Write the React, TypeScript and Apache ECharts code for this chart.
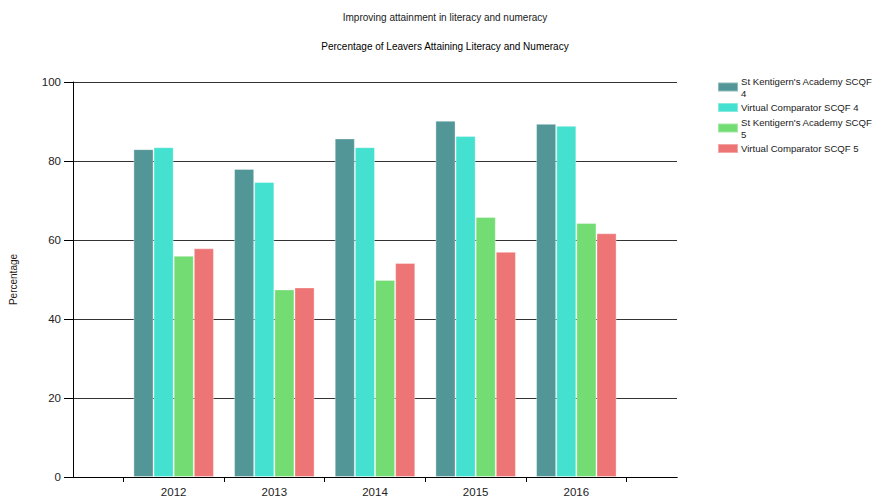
import React, { useEffect, useRef } from "react";
import * as echarts from "echarts";

const years = ["2012", "2013", "2014", "2015", "2016"];
const seriesNames = [
  "St Kentigern's Academy SCQF 4",
  "Virtual Comparator SCQF 4",
  "St Kentigern's Academy SCQF 5",
  "Virtual Comparator SCQF 5",
];
const sk4 = [83.0, 78.0, 85.7, 90.2, 89.4];
const vc4 = [83.5, 74.7, 83.5, 86.3, 88.9];
const sk5 = [56.0, 47.5, 49.9, 65.8, 64.3];
const vc5 = [57.9, 48.0, 54.2, 57.0, 61.7];
const colors = ["#529698", "#44E0D0", "#73DC73", "#EE7575"];
const yTicks = { min: 0, max: 100, interval: 20 };

const FONT = "'Liberation Sans', Arial, sans-serif";

export default function App() {
  const ref = useRef<HTMLDivElement>(null);
  useEffect(() => {
    if (!ref.current) return;
    const chart = echarts.init(ref.current, undefined, { renderer: "svg" });
    const pad = (arr: number[]) => [null, ...arr, null];
    const cats = ["", ...years, ""];
    const tickCats = ["a", "b", "c", "d", "e", "f"];
    const all = [sk4, vc4, sk5, vc5];
    chart.setOption({
      animation: false,
      textStyle: { fontFamily: FONT },
      title: [
        {
          text: "Improving attainment in literacy and numeracy",
          left: 445,
          top: 12,
          textAlign: "center",
          padding: 0,
          textStyle: { fontSize: 10, fontWeight: "normal", color: "#1a1a1a", fontFamily: FONT },
        },
        {
          text: "Percentage of Leavers Attaining Literacy and Numeracy",
          left: 445,
          top: 41,
          textAlign: "center",
          padding: 0,
          textStyle: { fontSize: 10, fontWeight: "normal", color: "#000", fontFamily: FONT },
        },
      ],
      legend: {
        orient: "vertical",
        left: 717,
        top: 75,
        padding: 0,
        itemWidth: 20,
        itemHeight: 9,
        itemGap: 2.5,
        icon: "rect",
        data: seriesNames,
        formatter: (name: string) =>
          name.startsWith("St") ? name.replace(/ (\d)$/, "\n$1") : name,
        textStyle: { fontSize: 9.6, lineHeight: 12, color: "#1a1a1a", padding: [0, 0, 0, -2] },
      },
      grid: { left: 73, right: 199, top: 82, bottom: 22, containLabel: false },
      xAxis: [
        {
          type: "category",
          data: cats,
          boundaryGap: false,
          position: "bottom",
          axisLine: { show: true, lineStyle: { color: "#000" } },
          axisTick: { show: false },
          axisLabel: { fontSize: 11.5, color: "#222", margin: 9, interval: 0 },
          splitLine: { show: false },
        },
        {
          type: "category",
          data: tickCats,
          boundaryGap: true,
          position: "bottom",
          axisLine: { show: true, lineStyle: { color: "#000" } },
          axisTick: { show: true, alignWithLabel: true, length: 5, lineStyle: { color: "#000" } },
          axisLabel: { show: false },
          splitLine: { show: false },
        },
      ],
      yAxis: {
        type: "value",
        min: yTicks.min,
        max: yTicks.max,
        interval: yTicks.interval,
        name: "Percentage",
        nameLocation: "middle",
        nameRotate: 90,
        nameGap: 55,
        nameTextStyle: { fontSize: 10, color: "#2a1a1a" },
        axisLine: { show: true, lineStyle: { color: "#000" } },
        axisTick: { show: true, length: 9, lineStyle: { color: "#000" } },
        axisLabel: { fontSize: 11.5, color: "#222", margin: 12 },
        splitLine: { show: true, lineStyle: { color: "#333", width: 1 } },
      },
      series: all.map((vals, i) => ({
        type: "bar",
        name: seriesNames[i],
        xAxisIndex: 0,
        data: pad(vals),
        barGap: "0%",
        barCategoryGap: "20%",
        itemStyle: {
          color: colors[i],
          borderColor: "rgba(255,255,255,0.35)",
          borderWidth: 1,
        },
      })),
    });
    return () => chart.dispose();
  }, []);
  return <div ref={ref} style={{ width: 876, height: 499, position: "absolute", left: 0, top: 0 }} />;
}
